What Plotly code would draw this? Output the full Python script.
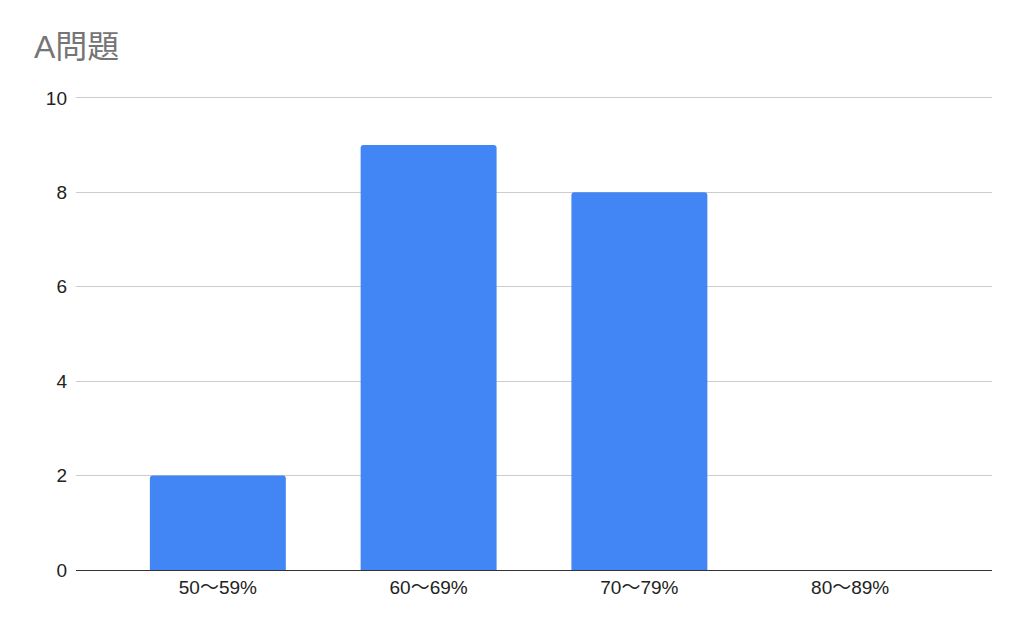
import plotly.graph_objects as go

categories = ["50〜59%", "60〜69%", "70〜79%", "80〜89%"]
counts = [2, 9, 8, 0]
y_ticks = [0, 2, 4, 6, 8, 10]

font_family = "Arial, 'Liberation Sans', 'Noto Sans CJK JP', sans-serif"

# The page body adds an 8px margin, so the figure is sized to fit the window.
W, H = 1016, 625

fig = go.Figure(
    go.Bar(
        x=categories,
        y=counts,
        marker=dict(color="#4285F4", line=dict(width=0)),
        width=0.645,
        hoverinfo="x+y",
    )
)

fig.update_layout(
    width=W,
    height=H,
    paper_bgcolor="white",
    plot_bgcolor="white",
    margin=dict(l=68, r=32, t=88, b=63),
    barcornerradius=3,
    showlegend=False,
    title=dict(
        text="A問題",
        x=26 / W,
        xanchor="left",
        y=1 - 39 / H,
        yanchor="middle",
        font=dict(family=font_family, size=32, color="#757575"),
    ),
    font=dict(family=font_family, size=19, color="#222222"),
)

fig.update_xaxes(
    type="category",
    range=[-0.673, 3.673],
    showgrid=False,
    showline=True,
    linecolor="#333333",
    linewidth=1,
    ticks="",
    tickfont=dict(size=19, color="#222222"),
    fixedrange=True,
)

fig.update_yaxes(
    range=[0, 10.04],
    tickvals=y_ticks,
    showgrid=True,
    gridcolor="#cccccc",
    gridwidth=1,
    zeroline=False,
    showline=False,
    ticks="",
    ticklabelstandoff=8,
    tickfont=dict(size=19, color="#222222"),
    fixedrange=True,
)

fig.write_html("out.html")
